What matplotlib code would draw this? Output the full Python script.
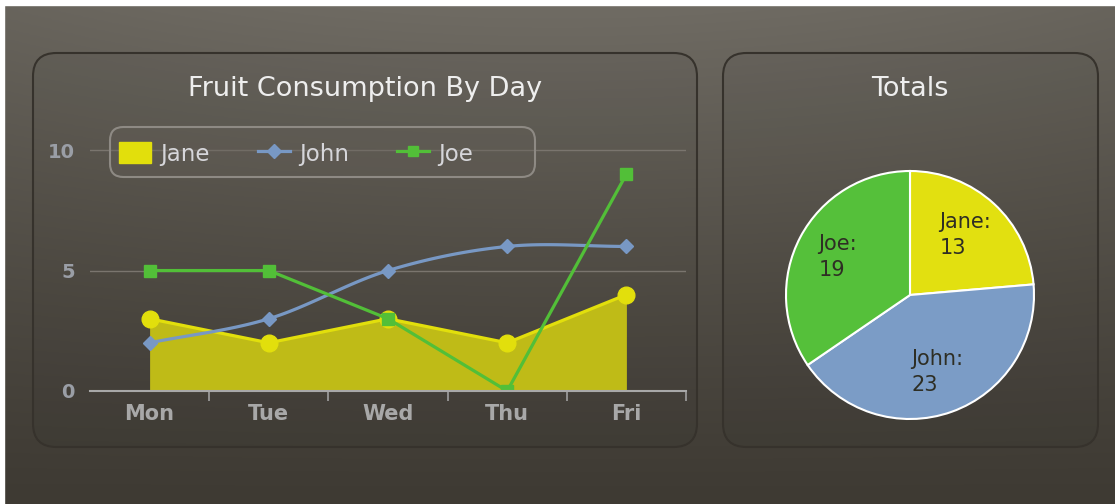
import numpy as np
import matplotlib
matplotlib.use("Agg")
import matplotlib.pyplot as plt
from matplotlib.patches import FancyBboxPatch, Patch, Rectangle
from matplotlib.lines import Line2D

# data
days = ["Mon", "Tue", "Wed", "Thu", "Fri"]
jane = [3, 2, 3, 2, 4]
john = [2, 3, 5, 6, 6]
joe = [5, 5, 3, 0, 9]

pie_names = ["Jane", "John", "Joe"]
pie_totals = [13, 23, 19]

yellow = "#e2df0c"
yellow_fill = "#bfbb17"
blue = "#7898c4"
green = "#52bf38"
pie_cols = ["#e2e010", "#7b9cc6", "#55c03a"]

W, H = 1115, 504


def box(x0, y0, x1, y1):
    # pixel box (top-left origin) -> figure fraction rect
    return [x0 / W, 1 - y1 / H, (x1 - x0) / W, (y1 - y0) / H]


def spline(xs, ys, n=30):
    # catmull-rom style curve through the points (drawing only)
    xs = np.asarray(xs, float)
    ys = np.asarray(ys, float)
    m = np.zeros_like(ys)
    m[1:-1] = (ys[2:] - ys[:-2]) / 2
    m[0] = ys[1] - ys[0]
    m[-1] = 0
    px, py = [], []
    for i in range(len(xs) - 1):
        t = np.linspace(0, 1, n)
        h00 = 2 * t**3 - 3 * t**2 + 1
        h10 = t**3 - 2 * t**2 + t
        h01 = -2 * t**3 + 3 * t**2
        h11 = t**3 - t**2
        px.extend(xs[i] + t * (xs[i + 1] - xs[i]))
        py.extend(h00 * ys[i] + h10 * m[i] + h01 * ys[i + 1] + h11 * m[i + 1])
    return np.array(px), np.array(py)


fig = plt.figure(figsize=(W / 100, H / 100), dpi=100)

# background gradient
bg = fig.add_axes([0, 0, 1, 1], zorder=-5)
yy = np.linspace(0, 1, 200)[:, None]
xx = np.linspace(-1, 1, 300)[None, :]
top = np.array([112, 108, 100]) / 255
bot = np.array([62, 58, 51]) / 255
shade = (1 - yy) ** 1.15 * (1 - 0.15 * xx**2)
img = bot + shade[..., None] * (top - bot)
bg.imshow(img, aspect="auto", extent=[0, 1, 0, 1], origin="upper")
bg.set_axis_off()
fig.patches.append(Rectangle((0, 1 - 5 / H), 1, 5 / H, transform=fig.transFigure,
                             color="white", zorder=-4))
fig.patches.append(Rectangle((0, 0), 4 / W, 1, transform=fig.transFigure,
                             color="white", zorder=-4))

# panels
for x0, x1 in [(33, 697), (723, 1098)]:
    r = box(x0, 53, x1, 447)
    fig.patches.append(FancyBboxPatch((r[0], r[1]), r[2], r[3],
                                      boxstyle="round,pad=0,rounding_size=0.021",
                                      transform=fig.transFigure, mutation_aspect=W / H,
                                      facecolor=(0, 0, 0, 0.03), edgecolor="#36322c",
                                      lw=1.5, zorder=-3))

fig.text(365 / W, 1 - 89 / H, "Fruit Consumption By Day", ha="center", va="center",
         fontsize=19.5, color="#eeeeee")
fig.text(910 / W, 1 - 89 / H, "Totals", ha="center", va="center",
         fontsize=19.5, color="#eeeeee")

# line chart
ax = fig.add_axes(box(90, 126, 686, 391), zorder=1)
ax.patch.set_visible(False)
x = np.arange(len(days))
ax.fill_between(x, 0, jane, color=yellow_fill, zorder=2, lw=0)
ax.plot(x, jane, color=yellow, lw=2.3, marker="o", ms=12, zorder=3)
sx, sy = spline(x, john)
ax.plot(sx, sy, color=blue, lw=2.3, zorder=4)
ax.plot(x, john, ls="none", color=blue, marker="D", ms=7.5, zorder=4)
ax.plot(x, joe, color=green, lw=2.3, marker="s", ms=8, zorder=5)

ax.set_xlim(-0.5, 4.5)
ax.set_ylim(0, 11)
ax.set_yticks([0, 5, 10])
ax.set_xticks(x)
ax.set_xticklabels(days, fontsize=15, fontweight="bold", color="#a8a8a8")
ax.set_xticks(np.arange(0.5, 5, 1), minor=True)
ax.tick_params(axis="x", which="major", length=0, pad=9)
ax.tick_params(axis="x", which="minor", length=7, width=1.2, color="#a0a0a0", direction="out")
ax.tick_params(axis="y", length=0, pad=11, labelsize=14, labelcolor="#9a9ea6")
for t in ax.get_yticklabels():
    t.set_fontweight("bold")
ax.grid(axis="y", color="#7a756e", lw=1)
for s in ["left", "right", "top"]:
    ax.spines[s].set_visible(False)
ax.spines["bottom"].set_color("#a8a8a8")
ax.spines["bottom"].set_linewidth(1.5)
ax.spines["bottom"].set_zorder(6)

# legend
r = box(110, 127, 535, 177)
fig.patches.append(FancyBboxPatch((r[0], r[1]), r[2], r[3],
                                  boxstyle="round,pad=0,rounding_size=0.012",
                                  transform=fig.transFigure, mutation_aspect=W / H,
                                  facecolor=(0.39, 0.37, 0.34, 0.35), edgecolor="#8e8a84",
                                  lw=1.5, zorder=2))
handles = [Patch(facecolor=yellow, edgecolor=yellow),
           Line2D([], [], color=blue, lw=2.3, marker="D", ms=7),
           Line2D([], [], color=green, lw=2.3, marker="s", ms=7)]
leg = fig.legend(handles, ["Jane", "John", "Joe"], loc="center left",
                 bbox_to_anchor=(112 / W, 1 - 154 / H), ncol=3, frameon=False,
                 fontsize=16.5, handlelength=1.4, handleheight=1.0, handletextpad=0.4,
                 columnspacing=2.1, borderaxespad=0, borderpad=0.3)
leg.set_zorder(3)
for t in leg.get_texts():
    t.set_color("#d6d6da")

# pie chart
pad = 1.02
pax = fig.add_axes(box(910 - 124 * pad, 295 - 124 * pad, 910 + 124 * pad, 295 + 124 * pad),
                   zorder=1)
labels = [f"{n}:\n{v}" for n, v in zip(pie_names, pie_totals)]
wedges, texts = pax.pie(pie_totals, colors=pie_cols, startangle=90, counterclock=False,
                        labels=labels, labeldistance=0.66,
                        wedgeprops=dict(edgecolor="white", linewidth=1.5))
for t in texts:
    t.set_ha("center")
    t.set_va("center")
    t.set_fontsize(15)
    t.set_color("#2e2e24")
    t.set_multialignment("left")
    t.set_linespacing(1.4)
pax.set_xlim(-pad, pad)
pax.set_ylim(-pad, pad)
pax.set_aspect("equal")
pax.axis("off")

fig.savefig("out.png", dpi=100)
